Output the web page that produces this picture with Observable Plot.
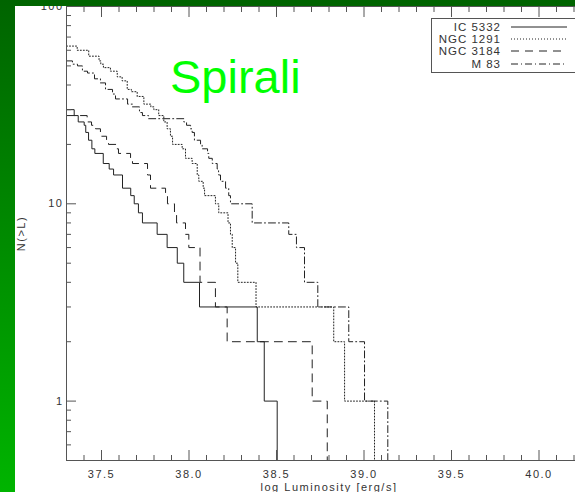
<!DOCTYPE html>
<html>
<head>
<meta charset="utf-8">
<script src="https://cdn.jsdelivr.net/npm/d3@7"></script>
<script src="https://cdn.jsdelivr.net/npm/@observablehq/plot@0.6"></script>
<style>
html, body { margin: 0; padding: 0; overflow: hidden; background: #fff; }
#wrap { position: relative; width: 575px; height: 492px; overflow: hidden;
  background: linear-gradient(to bottom, #006400, #00b400);
  font-family: "Liberation Sans", Arial, Helvetica, sans-serif; }
#paper { position: absolute; left: 15px; top: 6px; width: 560px; height: 486px; overflow: hidden; background: #fff; }
#chart { position: absolute; left: -15px; top: -6px; width: 591px; height: 492px; }
#chart svg { max-width: none !important; width: 591px; height: 492px; }
#chart svg text { letter-spacing: 1.5px; }
#title { position: absolute; left: 155px; top: 47px; font-size: 47px; line-height: 47px; color: #00ff00; white-space: nowrap; }
#legend { position: absolute; left: 416px; top: 12px; width: 170px; height: 55px; border: 1px solid #555; box-sizing: border-box; padding-top: 2px; }
.row { display: flex; align-items: center; height: 12.2px; }
.row span { display: inline-block; width: 69px; text-align: right; font-size: 11.5px; line-height: 12px; letter-spacing: 1px; color: #333; }
.row svg { margin-left: 10px; display: block; }
</style>
</head>
<body>
<div id="wrap"><div id="paper"><div id="chart"></div><div id="title">Spirali</div><div id="legend"></div></div></div>
<script>
// Series names and line styles
const names = ["IC 5332", "NGC 1291", "NGC 3184", "M 83"];
const dashes = [undefined, "1,2", "8,6", "7,3,1,3"];

// log Luminosity breakpoints (start of each step) and N(>L) level
const icL = [37.300, 37.344, 37.367, 37.401, 37.410, 37.426, 37.445, 37.462, 37.510, 37.544, 37.569, 37.620, 37.667, 37.687, 37.711, 37.734, 37.818, 37.875, 37.933, 37.970, 38.060, 38.390, 38.430, 38.504];
const icN = [30, 28, 26, 25, 23, 21, 19, 18, 16, 15, 14, 12, 11, 10, 9, 8, 7, 6, 5, 4, 3, 2, 1, 0.5];

const n1291L = [37.300, 37.361, 37.427, 37.486, 37.496, 37.511, 37.551, 37.590, 37.618, 37.647, 37.671, 37.704, 37.742, 37.782, 37.799, 37.827, 37.856, 37.875, 37.894, 37.906, 37.961, 37.980, 38.018, 38.047, 38.056, 38.081, 38.089, 38.151, 38.170, 38.223, 38.237, 38.247, 38.266, 38.279, 38.383, 38.827, 38.889, 39.060];
const n1291N = [63, 60, 56, 53, 51, 49, 47, 44, 42, 38, 37, 35, 32, 31, 30, 28, 26, 24, 22, 20, 19, 17, 16, 14, 13, 12, 11, 10, 9, 8, 7, 6, 5, 4, 3, 2, 1, 0.5];

const n3184L = [37.300, 37.418, 37.443, 37.466, 37.494, 37.529, 37.540, 37.586, 37.597, 37.666, 37.677, 37.763, 37.780, 37.866, 37.877, 37.917, 37.929, 37.980, 37.999, 38.063, 38.151, 38.218, 38.704, 38.790];
const n3184N = [28, 26, 25, 24, 22, 21, 20, 19, 18, 17, 16, 14, 12, 11, 10, 9, 8, 7, 6, 4, 3, 2, 1, 0.5];

const m83L = [37.300, 37.334, 37.363, 37.391, 37.420, 37.460, 37.494, 37.523, 37.563, 37.580, 37.649, 37.677, 37.717, 37.734, 37.769, 37.970, 37.986, 38.009, 38.018, 38.031, 38.066, 38.075, 38.106, 38.113, 38.133, 38.161, 38.169, 38.180, 38.209, 38.227, 38.237, 38.361, 38.570, 38.614, 38.660, 38.736, 38.913, 39.003, 39.136];
const m83N = [53, 51, 50, 47, 46, 43, 41, 38, 36, 34, 32, 31, 29, 28, 27, 26, 25, 24, 23, 21, 20, 19, 18, 17, 16, 15, 14, 13, 12, 11, 10, 8, 7, 6, 4, 3, 2, 1, 0.5];

// Axis ticks
const xMajor = [37.5, 38.0, 38.5, 39.0, 39.5, 40.0];
const xMinor = [37.4, 37.6, 37.7, 37.8, 37.9, 38.1, 38.2, 38.3, 38.4, 38.6, 38.7, 38.8, 38.9, 39.1, 39.2, 39.3, 39.4, 39.6, 39.7, 39.8, 39.9, 40.1, 40.2];
const yMajor = [1, 10, 100];
const yMinor = [0.6, 0.7, 0.8, 0.9, 2, 3, 4, 5, 6, 7, 8, 9, 20, 30, 40, 50, 60, 70, 80, 90];

const seriesL = [icL, n1291L, n3184L, m83L];
const seriesN = [icN, n1291N, n3184N, m83N];

const rows = [];
seriesL.forEach((Ls, i) => Ls.forEach((L, j) => rows.push({name: names[i], L, N: seriesN[i][j]})));

const axisColor = "#555";
const blank = () => "";

const plot = Plot.plot({
  width: 591, height: 492,
  marginLeft: 66, marginRight: 0, marginTop: 6, marginBottom: 32,
  style: {background: "transparent", fontFamily: '"Liberation Sans", Arial, sans-serif', fontSize: "11px", color: "#333"},
  x: {domain: [37.3, 40.3], axis: null, label: null},
  y: {type: "log", domain: [0.5, 100], axis: null, label: null},
  marks: [
    ...names.map((nm, i) => Plot.line(rows.filter(r => r.name === nm), {
      x: "L", y: "N", curve: "step-after", stroke: "#222", strokeWidth: 1, strokeDasharray: dashes[i]
    })),
    Plot.frame({stroke: axisColor}),
    Plot.axisX(xMajor, {anchor: "bottom", tickSize: -10, tickFormat: blank, label: null, stroke: axisColor}),
    Plot.axisX(xMinor, {anchor: "bottom", tickSize: -5, tickFormat: blank, label: null, stroke: axisColor}),
    Plot.axisX(xMajor, {anchor: "top", tickSize: -10, tickFormat: blank, label: null, stroke: axisColor}),
    Plot.axisX(xMinor, {anchor: "top", tickSize: -5, tickFormat: blank, label: null, stroke: axisColor}),
    Plot.axisX(xMajor, {anchor: "bottom", tickSize: 0, tickPadding: 9.5, tickFormat: d3.format(".1f"),
      label: "log Luminosity [erg/s]", labelAnchor: "center", labelArrow: "none", labelOffset: 30.5}),
    Plot.axisY(yMajor, {anchor: "left", tickSize: -10, tickFormat: blank, label: null, stroke: axisColor}),
    Plot.axisY(yMinor, {anchor: "left", tickSize: -5, tickFormat: blank, label: null, stroke: axisColor}),
    Plot.axisY(yMajor, {anchor: "left", tickSize: 0, tickPadding: 3, tickFormat: d3.format("d"),
      label: "N(>L)", labelAnchor: "center", labelArrow: "none", labelOffset: 49})
  ]
});
document.getElementById("chart").appendChild(plot);

// Legend
const legend = document.getElementById("legend");
names.forEach((nm, i) => {
  const row = document.createElement("div");
  row.className = "row";
  const sp = document.createElement("span");
  sp.textContent = nm;
  row.appendChild(sp);
  const svg = d3.create("svg").attr("width", 56).attr("height", 12);
  svg.append("line").attr("x1", 0).attr("x2", 56).attr("y1", 6).attr("y2", 6)
    .attr("stroke", "#222").attr("stroke-width", 1)
    .attr("stroke-dasharray", dashes[i] || null);
  row.appendChild(svg.node());
  legend.appendChild(row);
});
</script>
</body>
</html>
